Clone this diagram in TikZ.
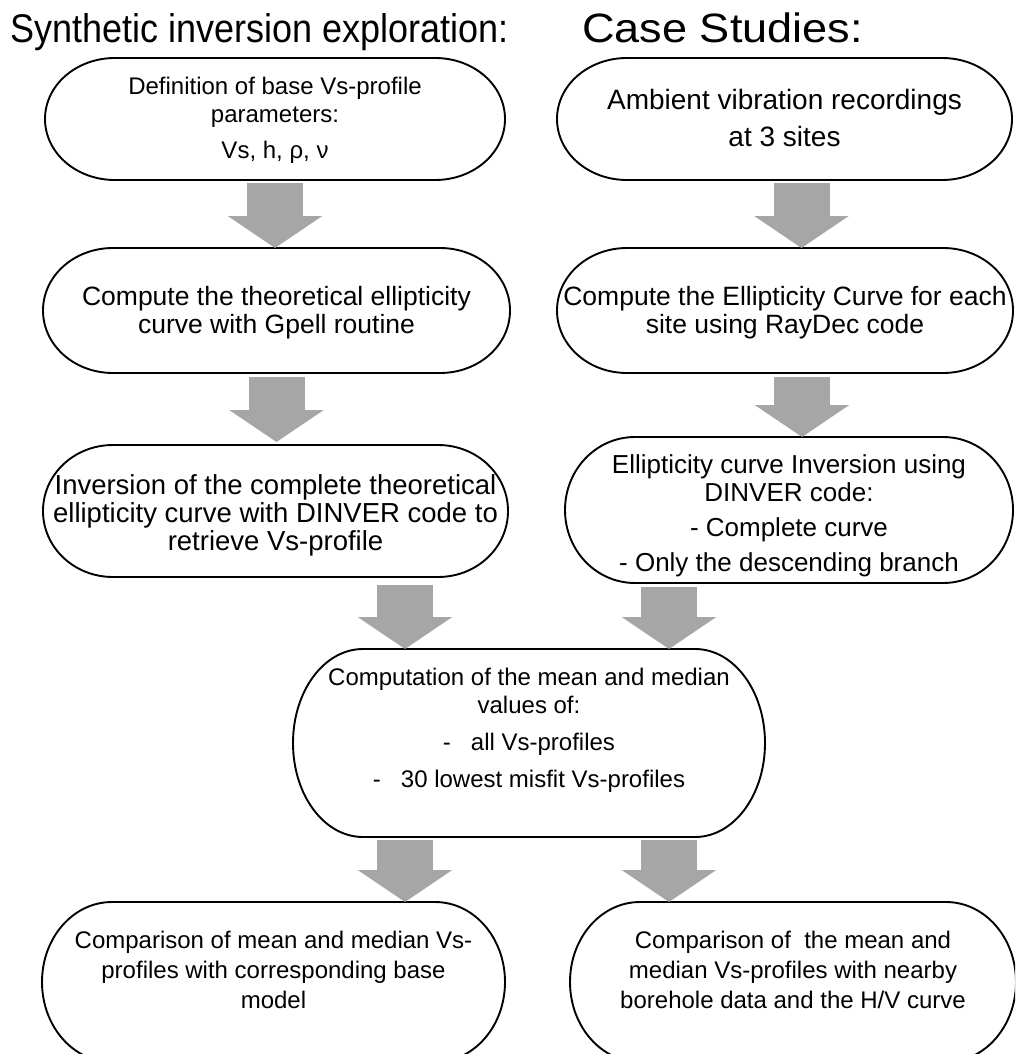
\documentclass[tikz,border=0pt]{standalone}
\usepackage{fontspec}
\setmainfont{Liberation Sans}
\usepackage{tikz}
\definecolor{arrowgray}{RGB}{166, 166, 166}
\usetikzlibrary{arrows.meta, positioning, calc, fit}

\begin{document}
\begin{tikzpicture}[
    x=1pt, y=-1pt,
    stage/.style={rectangle, inner sep=0pt, outer sep=0pt, align=center,
                  font=\fontsize{#1}{28}\selectfont},
    stage/.default=24,
    heading/.style 2 args={anchor=base west, inner sep=0pt,
                    font=\fontsize{#1}{44}\selectfont\addfontfeature{FakeStretch=#2}},
    flow/.style={draw=arrowgray, line width=56pt, -{Triangle[width=93pt, length=32pt]}},
    outline/.style={draw=black, line width=1.9pt}
]
    \useasboundingbox (0,0) rectangle (1015,1054);
    \clip (0,0) rectangle (1015,1054);

    \node[heading={40}{0.9}] (synhead) at (10,43) {Synthetic inversion exploration:};
    \node[heading={41}{1.1}] (casehead) at (582,43) {Case Studies:};

    % left column: synthetic tests
    \node[stage, fit={(45,58) (505,180)}] (defn) {\mbox{}\\[-9pt] Definition of base Vs-profile\\ parameters:\\[8pt] Vs, h, ρ, ν};
    \node[stage=26.5, fit={(43,248) (510,373)}] (gpell) {\mbox{}\\[-5pt] Compute the theoretical ellipticity\\ curve with Gpell routine};
    \node[stage=27.5, fit={(43,445) (508,577)}] (invsyn) {\mbox{}\\[1pt] Inversion of the complete theoretical\\ ellipticity curve with DINVER code to\\ retrieve Vs-profile};

    % right column: case studies
    \node[stage=28, fit={(557,58) (1012,180)}] (amb) {\mbox{}\\[-9pt] Ambient vibration recordings\\[9pt] at 3 sites};
    \node[stage=26.5, fit={(557,248) (1013,373)}] (raydec) {\mbox{}\\[-5pt] Compute the Ellipticity Curve for each\\ site using RayDec code};
    \node[stage=26, fit={(565,437) (1013,583)}] (invcase) {\mbox{}\\[3pt] Ellipticity curve Inversion using\\ DINVER code:\\[7pt] - Complete curve\\[7pt] - Only the descending branch};

    % joint steps
    \node[stage, fit={(293,649) (765,837)}] (stats) {Computation of the mean and median\\ values of:\\[9pt] -\ \ \ all Vs-profiles\\[9pt] -\ \ \ 30 lowest misfit Vs-profiles\\[-14pt]\mbox{}};
    \node[stage, fit={(42,902) (505,1062)}] (cmpsyn) {Comparison of mean and median Vs-\\[2pt] profiles with corresponding base\\[2pt] model\\[-20pt]\mbox{}};
    \node[stage, fit={(570,902) (1016,1062)}] (cmpcase) {Comparison of\ \ the mean and\\[2pt] median Vs-profiles with nearby\\[2pt] borehole data and the H/V curve\\[-20pt]\mbox{}};

    % terminator outlines
    \foreach \b in {defn,gpell,invsyn,amb,raydec,invcase,stats,cmpsyn,cmpcase}
        \draw[outline] ([xshift=70pt]\b.north west) -- ([xshift=-70pt]\b.north east)
            .. controls ([xshift=-31pt]\b.north east) and ($(\b.east)!0.552!(\b.north east)$) .. (\b.east)
            .. controls ($(\b.east)!0.552!(\b.south east)$) and ([xshift=-31pt]\b.south east) .. ([xshift=-70pt]\b.south east)
            -- ([xshift=70pt]\b.south west)
            .. controls ([xshift=31pt]\b.south west) and ($(\b.west)!0.552!(\b.south west)$) .. (\b.west)
            .. controls ($(\b.west)!0.552!(\b.north west)$) and ([xshift=31pt]\b.north west) .. ([xshift=70pt]\b.north west)
            -- cycle;

    % block arrows
    \draw[flow] ([yshift=-3pt]defn.south) -- (defn.south |- gpell.north);
    \draw[flow] ([yshift=-4pt]gpell.south) -- ([yshift=3pt]gpell.south |- invsyn.north);
    \draw[flow] ([xshift=17pt,yshift=-3pt]amb.south) -- ([xshift=17pt]amb.south |- raydec.north);
    \draw[flow] ([xshift=17pt,yshift=-4pt]raydec.south) -- ([xshift=17pt]raydec.south |- invcase.north);
    \draw[flow] ([xshift=-124pt,yshift=-8pt]stats.north |- invsyn.south) -- ([xshift=-124pt]stats.north);
    \draw[flow] ([xshift=140pt,yshift=-4pt]stats.north |- invcase.south) -- ([xshift=140pt]stats.north);
    \draw[flow] ([xshift=-124pt,yshift=-3pt]stats.south) -- ([xshift=-124pt]stats.south |- cmpsyn.north);
    \draw[flow] ([xshift=140pt,yshift=-3pt]stats.south) -- ([xshift=140pt]stats.south |- cmpcase.north);
\end{tikzpicture}
\end{document}
